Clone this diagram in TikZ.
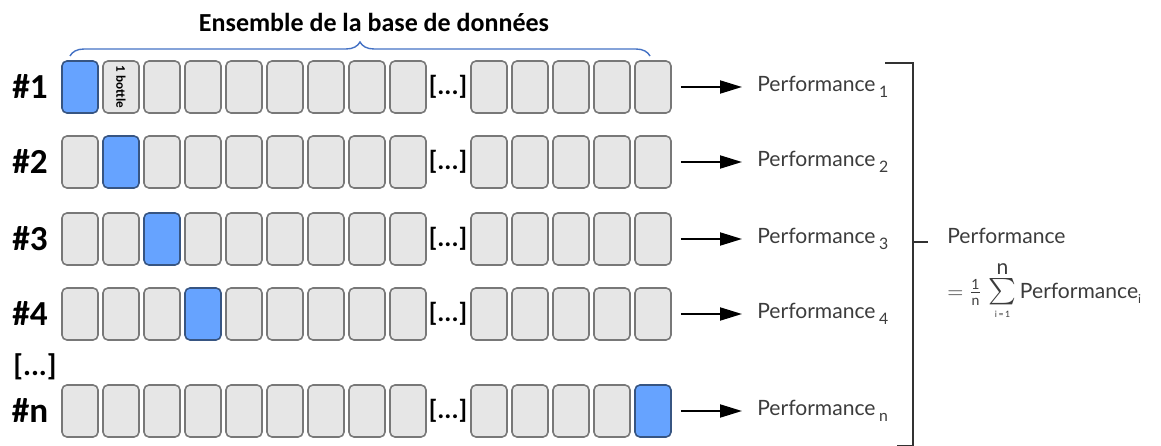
\documentclass[tikz,border=0pt]{standalone}
\usepackage{amsmath}
\usepackage{graphicx}
\usepackage{fontspec}
\setmainfont{Carlito}
\newfontfamily\perffont{Lato}
\usetikzlibrary{arrows.meta,decorations.pathreplacing}

\definecolor{cellgray}{RGB}{230,230,230}
\definecolor{celledge}{RGB}{120,120,120}
\definecolor{cellblue}{RGB}{102,163,255}
\definecolor{blueedge}{RGB}{55,85,130}
\definecolor{bracecolor}{RGB}{68,114,196}
\definecolor{bracketgray}{RGB}{50,50,50}
\definecolor{perftext}{RGB}{60,60,60}

\tikzset{
  cell/.style={draw=celledge, fill=cellgray, line width=0.9pt, rounded corners=2.8pt,
    minimum width=0.72cm, minimum height=1.04cm, inner sep=0pt},
  testcell/.style={cell, draw=blueedge, fill=cellblue},
  foldlabel/.style={font=\fontsize{20}{20}\selectfont\bfseries},
  rowdots/.style={font=\fontsize{15}{15}\selectfont\bfseries, inner sep=0pt},
  perf/.style={font=\perffont\fontsize{12}{12}\selectfont, text=perftext, anchor=west, inner sep=0pt},
  evalarrow/.style={line width=1.1pt, -{Triangle[length=0.44cm,width=0.26cm]}}
}

\begin{document}
\begin{tikzpicture}[x=0.02cm, y=-0.02cm]
\useasboundingbox (0,0) rectangle (1161,446);
\def\xcell{80}
\def\dx{41}
\def\xgap{40}

% title and brace
\node[font=\fontsize{14.8}{15}\selectfont\bfseries] (title) at (374,22) {Ensemble de la base de données};
\draw[bracecolor, line width=0.8pt, decorate, decoration={brace, amplitude=0.28cm}] (70,56) -- (650,56);

% one row per fold
\foreach \r/\lbl/\yy/\sel in {
1/\#1/87/0,
2/\#2/162/1,
3/\#3/239/2,
4/\#4/314/3,
n/\#n/411/13
}{
  \node[foldlabel] (lbl\r) at (30,\yy) {\lbl};
  \foreach \k in {0,...,13}{
    \pgfmathsetmacro\xx{\k<9 ? \xcell+\k*\dx : \xcell+\k*\dx+\xgap}
    \ifnum\k=\sel\relax
      \node[testcell] (c\r-\k) at (\xx,\yy) {};
    \else
      \node[cell] (c\r-\k) at (\xx,\yy) {};
    \fi
  }
  \node[rowdots] (dots\r) at (448,\yy) {[...]};
  \node[perf] (perf\r) at (757,\yy) {Performance\,\raisebox{-0.5ex}{\fontsize{9}{9}\selectfont\r}};
  \draw[evalarrow, shorten <=0.18cm, shorten >=0.3cm] (c\r-13) -- (perf\r);
}

\node[rotate=-90, font=\fontsize{7.5}{8}\selectfont\bfseries] (bottle) at (c1-1) {1 bottle};
\node[font=\fontsize{17}{17}\selectfont\bfseries] (morefolds) at (35,367) {[...]};

% bracket and mean
\draw[bracketgray, line width=1.1pt] (885,63) -- (913,63) -- (913,446) -- (897,446);
\draw[bracketgray, line width=1.1pt] (913,242) -- (928,242);
\node[perf] (mean) at (947,236) {Performance};
\node[perf, anchor=base west] (meanformula) at (947,298)
  {$=\frac{\text{1}}{\text{n}}\,\mathop{\scalebox{1.25}{$\sum$}}\limits_{\mbox{\fontsize{5}{5}\selectfont i\,=\,1}}^{\mbox{n}}$\,Performance\raisebox{-0.5ex}{\fontsize{7}{7}\selectfont i}};
\end{tikzpicture}
\end{document}
